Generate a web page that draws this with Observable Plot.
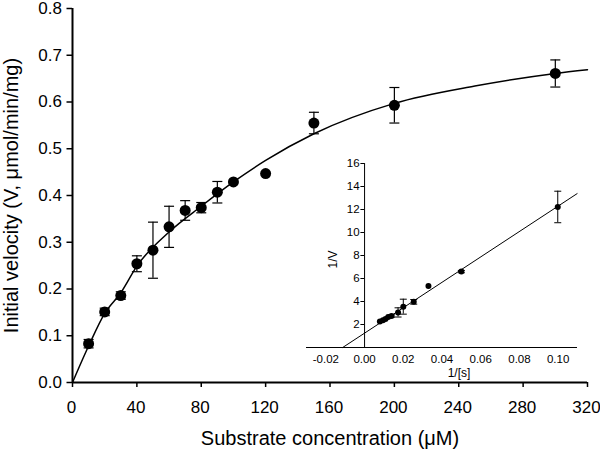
<!DOCTYPE html>
<html>
<head>
<meta charset="utf-8">
<script src="https://cdn.jsdelivr.net/npm/d3@7"></script>
<script src="https://cdn.jsdelivr.net/npm/@observablehq/plot@0.6"></script>
<style>
  html, body { margin: 0; padding: 0; background: #fff; }
  #wrap { position: relative; width: 600px; height: 452px; font-family: "Liberation Sans", Arial, Helvetica, sans-serif; }
  #inset { position: absolute; left: 296px; top: 153px; }
  svg { overflow: visible; }
</style>
</head>
<body>
<div id="wrap"><div id="main"></div><div id="inset"></div></div>
<script>
// ---- Main chart data (Michaelis–Menten plot) ----
const substrate = [10, 20, 30, 40, 50, 60, 70, 80, 90, 100, 120, 150, 200, 300];
const velocity  = [0.083, 0.151, 0.186, 0.254, 0.283, 0.333, 0.368, 0.374, 0.407, 0.429, 0.447, 0.555, 0.593, 0.661];
const velErr    = [0.009, 0.008, 0.008, 0.017, 0.060, 0.044, 0.021, 0.011, 0.023, 0, 0, 0.023, 0.038, 0.029];
// fitted curve
const curveS = [0, 10, 20, 30, 40, 60, 80, 100, 120, 150, 200, 250, 300, 320];
const curveV = [0, 0.078, 0.148, 0.192, 0.249, 0.322, 0.377, 0.429, 0.475, 0.532, 0.597, 0.634, 0.661, 0.669];
const xTicks = [0, 40, 80, 120, 160, 200, 240, 280, 320];
const yTicks = [0, 0.1, 0.2, 0.3, 0.4, 0.5, 0.6, 0.7, 0.8];

// ---- Inset data (Lineweaver–Burk plot) ----
const invS    = [0.0079, 0.0095, 0.0108, 0.0122, 0.0139, 0.0173, 0.0200, 0.0254, 0.0330, 0.0500, 0.0998];
const invV    = [2.27, 2.36, 2.48, 2.66, 2.74, 3.05, 3.55, 3.97, 5.35, 6.60, 12.22];
const invVErr = [0, 0, 0, 0, 0.1, 0.4, 0.65, 0.2, 0, 0.1, 1.37];
const lbLineX = [-0.0113, 0.1098];
const lbLineY = [0, 13.38];
const insetXTicks = [-0.02, 0, 0.02, 0.04, 0.06, 0.08, 0.10];
const insetYTicks = [2, 4, 6, 8, 10, 12, 14, 16];

const font = '"Liberation Sans", Arial, Helvetica, sans-serif';
const capSymbol = { draw(ctx, size) { const r = Math.sqrt(size / Math.PI); ctx.moveTo(-r, 0); ctx.lineTo(r, 0); } };

const pts = substrate.map((s, i) => ({s, v: velocity[i], e: velErr[i]}));
const errPts = pts.filter(d => d.e > 0);
const curve = curveS.map((s, i) => ({s, v: curveV[i]}));

const main = Plot.plot({
  width: 600, height: 452,
  marginLeft: 72, marginRight: 13, marginTop: 8, marginBottom: 70,
  style: {fontFamily: font, background: "transparent", color: "#000", overflow: "visible"},
  x: {domain: [0, 320], axis: null},
  y: {domain: [0, 0.8], axis: null},
  marks: [
    Plot.axisX(xTicks, {tickSize: 5, strokeWidth: 1.5, label: null, tickFormat: () => ""}),
    Plot.text(xTicks, {x: d => d, frameAnchor: "bottom", dy: 25, dx: -1, fontSize: 17, lineAnchor: "middle", text: d => String(d)}),
    Plot.axisY(yTicks, {tickSize: 5.5, tickPadding: 5, fontSize: 17, strokeWidth: 1.5, label: null, tickFormat: d => d.toFixed(1)}),
    Plot.ruleX([0], {strokeWidth: 2}),
    Plot.ruleY([0], {strokeWidth: 2}),
    Plot.line(curve, {x: "s", y: "v", curve: "monotone-x", strokeWidth: 1.5}),
    Plot.ruleX(errPts, {x: "s", y1: d => d.v - d.e, y2: d => d.v + d.e, strokeWidth: 1.2}),
    Plot.dot(errPts, {x: "s", y: d => d.v + d.e, symbol: capSymbol, r: 5, stroke: "#000", fill: "none", strokeWidth: 1.2}),
    Plot.dot(errPts, {x: "s", y: d => d.v - d.e, symbol: capSymbol, r: 5, stroke: "#000", fill: "none", strokeWidth: 1.2}),
    Plot.dot(pts, {x: "s", y: "v", r: 5.5, fill: "#000"}),
    Plot.text(["Substrate concentration (\u03bcM)"], {frameAnchor: "bottom", textAnchor: "middle", dy: 56, fontSize: 20, lineAnchor: "middle"}),
    Plot.text(["Initial velocity (V, \u03bcmol/min/mg)"], {frameAnchor: "left", textAnchor: "middle", dx: -61, rotate: -90, fontSize: 20, lineAnchor: "middle"})
  ]
});
document.getElementById("main").appendChild(main);

const ipts = invS.map((x, i) => ({x, y: invV[i], e: invVErr[i]}));
const ierr = ipts.filter(d => d.e > 0);
const lbLine = lbLineX.map((x, i) => ({x, y: lbLineY[i]}));

const inset = Plot.plot({
  width: 290, height: 230,
  marginLeft: 10, marginRight: 9, marginTop: 10, marginBottom: 36,
  style: {fontFamily: font, background: "transparent", color: "#000", overflow: "visible"},
  x: {domain: [-0.03, 0.11], axis: null},
  y: {domain: [0, 16], axis: null},
  marks: [
    Plot.axisX(insetXTicks, {tickSize: 0, tickPadding: 7, fontSize: 11.5, label: null, tickFormat: d => d.toFixed(2)}),
    Plot.ruleY([0], {strokeWidth: 1}),
    Plot.ruleX([0], {y1: 0, y2: 16, strokeWidth: 1}),
    Plot.ruleY(insetYTicks, {x1: -0.0019, x2: 0, strokeWidth: 1}),
    Plot.text(insetYTicks, {x: () => 0, y: d => d, dx: -5, textAnchor: "end", fontSize: 11.5, text: d => String(d)}),
    Plot.line(lbLine, {x: "x", y: "y", strokeWidth: 1}),
    Plot.ruleX(ierr, {x: "x", y1: d => d.y - d.e, y2: d => d.y + d.e, strokeWidth: 1}),
    Plot.dot(ierr, {x: "x", y: d => d.y + d.e, symbol: capSymbol, r: 3.5, stroke: "#000", fill: "none", strokeWidth: 1}),
    Plot.dot(ierr, {x: "x", y: d => d.y - d.e, symbol: capSymbol, r: 3.5, stroke: "#000", fill: "none", strokeWidth: 1}),
    Plot.dot(ipts, {x: "x", y: "y", r: 3, fill: "#000"}),
    Plot.text(["1/[s]"], {frameAnchor: "bottom", textAnchor: "middle", dx: 17, dy: 26, fontSize: 12, lineAnchor: "middle"}),
    Plot.text(["1/V"], {frameAnchor: "left", textAnchor: "middle", dx: 27, dy: 4, rotate: -90, fontSize: 12, lineAnchor: "middle"})
  ]
});
document.getElementById("inset").appendChild(inset);
</script>
</body>
</html>
